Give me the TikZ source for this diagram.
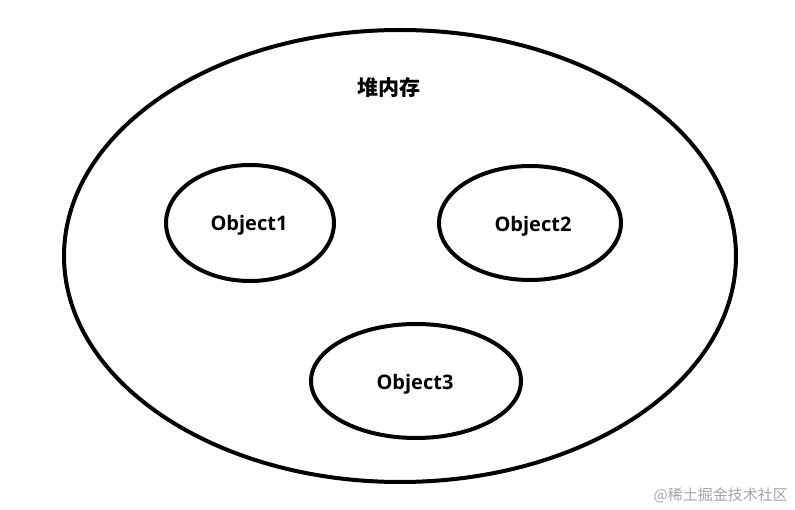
\documentclass[tikz,border=0pt]{standalone}
\usepackage{fontspec}
\setmainfont{Open Sans}[BoldFont={Open Sans Bold}]
\newfontfamily\cjk{Noto Sans CJK SC}
\definecolor{wm}{RGB}{165,165,165}
\begin{document}
\begin{tikzpicture}[x=1pt,y=-1pt,
  blob/.style={draw=black,line width=4pt},
  lbl/.style={font=\bfseries\fontsize{20}{24}\selectfont,inner sep=0pt,anchor=base},
  lblwrap/.style={}]
\useasboundingbox[fill=white] (0,0) rectangle (795,510);
\draw[blob] (400,256) ellipse [x radius=336, y radius=226];
\node[lbl,font=\cjk\bfseries\fontsize{21}{24}\selectfont] (heap) at (389,96) {堆内存};
\draw[blob] (250,223) ellipse [x radius=84, y radius=58];
\node[lbl] (o1) at (249,231) {Object1};
\draw[blob] (530,223) ellipse [x radius=91, y radius=57];
\node[lbl] (o2) at (533,232) {Object2};
\draw[blob] (416,381) ellipse [x radius=105, y radius=57];
\node[lbl] (o3) at (415,389) {Object3};
\node[inner sep=0pt,text=wm,font=\cjk\fontsize{15}{18}\selectfont,anchor=east] (wmk) at (788,495) {@稀土掘金技术社区};
\end{tikzpicture}
\end{document}
